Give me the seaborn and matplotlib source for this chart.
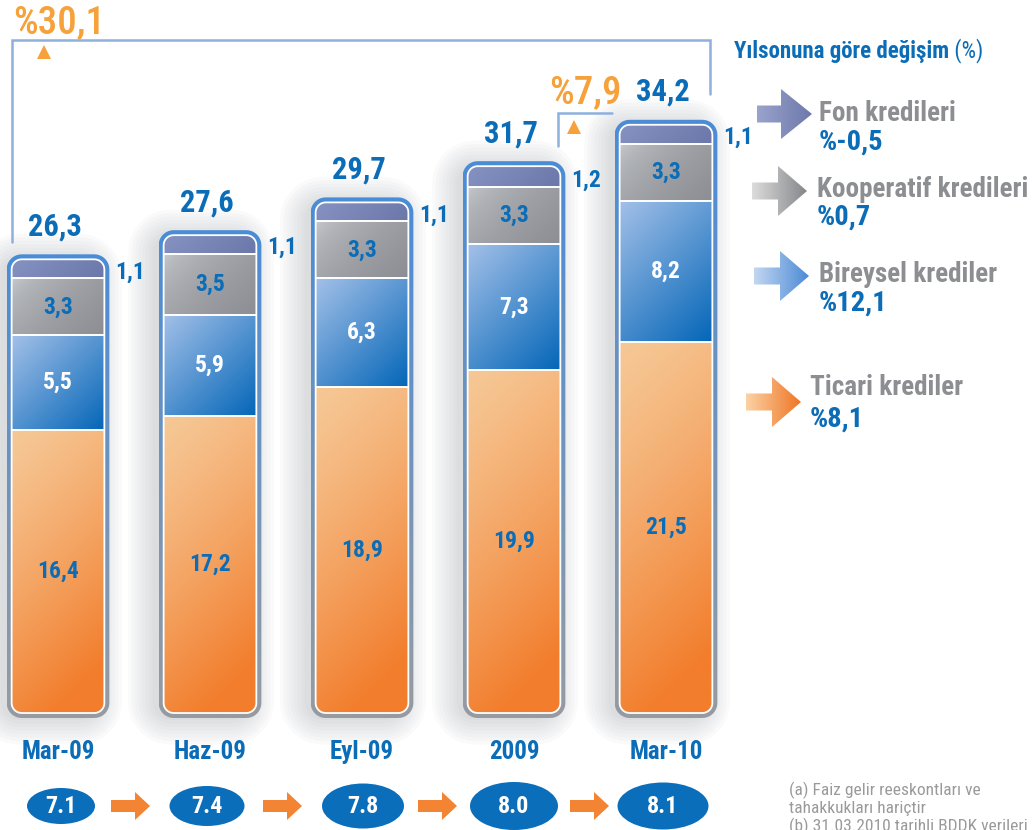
import numpy as np
import pandas as pd
import matplotlib
matplotlib.use('Agg')
import matplotlib.pyplot as plt
import seaborn as sns
from matplotlib import font_manager as fm
from matplotlib.path import Path
from matplotlib.patches import PathPatch, Ellipse, Polygon
from matplotlib.colors import to_rgb

# data
donem = ['Mar-09', 'Haz-09', 'Eyl-09', '2009', 'Mar-10']
ticari = [16.4, 17.2, 18.9, 19.9, 21.5]
bireysel = [5.5, 5.9, 6.3, 7.3, 8.2]
kooperatif = [3.3, 3.5, 3.3, 3.3, 3.3]
fon = [1.1, 1.1, 1.1, 1.2, 1.1]
toplam = [26.3, 27.6, 29.7, 31.7, 34.2]
oran = [7.1, 7.4, 7.8, 8.0, 8.1]
leg_names = ['Fon kredileri', 'Kooperatif kredileri', 'Bireysel krediler', 'Ticari krediler']
leg_change = ['%-0,5', '%0,7', '%12,1', '%8,1']
change_all = '%30,1'
change_ytd = '%7,9'
title_txt = 'Yılsonuna göre değişim'
notes = ['(a) Faiz gelir reeskontları ve', 'tahakkukları hariçtir', '(b) 31.03.2010 tarihli BDDK verileri']

df = pd.DataFrame({'donem': donem, 'ticari': ticari, 'bireysel': bireysel,
                   'kooperatif': kooperatif, 'fon': fon})

sns.set_style('white')

# pick the narrowest family that is installed
avail = {f.name: f for f in fm.fontManager.ttflist}
cond = [f.name for f in fm.fontManager.ttflist
        if 'narrow' in f.name.lower() or 'condensed' in f.name.lower()]
FONT = None
for c in ['Liberation Sans Narrow', 'Roboto Condensed', 'DejaVu Sans Condensed'] + cond:
    if c in avail:
        FONT = c
        break
if FONT is None:
    FONT = 'Roboto' if 'Roboto' in avail else 'Liberation Sans'
SC = 1.0 if ('Narrow' in FONT or 'Condensed' in FONT) else 0.86
plt.rcParams['font.family'] = [FONT, 'DejaVu Sans']

BLUE = '#0b6db7'
ORANGE = '#f6a13a'
GRAY = '#8d8e92'
BRACKET = '#8db0dd'

# pixel <-> data helpers (axes fills the whole figure)
PX, PY = 152.0, 17.25
X0PX, Y0PX = 58.0, 713.0
def fx(px): return (px - X0PX) / PX
def fy(py): return (Y0PX - py) / PY

def fmt(v):
    return f'{v:.1f}'.replace('.', ',')

def rrect(x0, y0, x1, y1, r, n=10):
    rx, ry = r / PX, r / PY
    pts = []
    for cx, cy, a0, a1 in [(x1 - rx, y0 + ry, -90, 0), (x1 - rx, y1 - ry, 0, 90),
                           (x0 + rx, y1 - ry, 90, 180), (x0 + rx, y0 + ry, 180, 270)]:
        a = np.radians(np.linspace(a0, a1, n))
        pts += list(zip(cx + rx * np.cos(a), cy + ry * np.sin(a)))
    return np.array(pts)

def closed(pts):
    v = np.vstack([pts, pts[:1]])
    c = [Path.MOVETO] + [Path.LINETO] * (len(pts) - 1) + [Path.CLOSEPOLY]
    return v, c

def diag_grad(c0, c1, w, h, gamma=1.0, stretch=1.0, n=80):
    c0, c1 = np.array(to_rgb(c0)), np.array(to_rgb(c1))
    xs = np.linspace(0, 1, n)[None, :]
    ys = np.linspace(0, 1, n)[:, None]
    t = np.clip((xs * w + ys * h) / (w + h) * stretch, 0, 1) ** gamma
    return c0 + (c1 - c0) * t[..., None]

def hgrad(c0, c1, n=60, vertical=False):
    c0, c1 = np.array(to_rgb(c0)), np.array(to_rgb(c1))
    t = np.linspace(0, 1, n)
    g = c0 + (c1 - c0) * t[:, None]
    return g[:, None, :] if vertical else g[None, :, :]

fig = plt.figure(figsize=(10.36, 8.3), dpi=100)
ax = fig.add_axes([0, 0, 1, 1])

layers = [('ticari', '#f6c896', '#f27d2c', 1.2, 1.15),
          ('bireysel', '#a3c0e8', '#0466b8', 1.0, 1.0),
          ('kooperatif', '#d0d3d6', '#8c8e93', 0.45, 1.0),
          ('fon', '#8592c2', '#6a77a8', 1.0, 1.0)]
BW = 0.61
bottom = np.zeros(len(donem))
seg = {}
for name, c0, c1, gm, st in layers:
    n0 = len(ax.patches)
    sns.barplot(data=df, x='donem', y=name, bottom=bottom, color=c1, width=BW,
                saturation=1, errorbar=None, ax=ax, zorder=3, linewidth=0)
    bars = ax.patches[n0:]
    for p in bars:
        x, y, w, h = p.get_x(), p.get_y(), p.get_width(), p.get_height()
        im = ax.imshow(diag_grad(c0, c1, w * PX, h * PY, gm, st), extent=(x, x + w, y, y + h),
                       aspect='auto', interpolation='bilinear', zorder=3.5)
        im.set_clip_path(p)
    seg[name] = (bottom.copy(), bottom + df[name].values)
    bottom = bottom + df[name].values

# frames, glow, separators
for i in range(len(donem)):
    xl, xr = i - BW / 2, i + BW / 2
    top = bottom[i]
    # soft shadow, mostly to the left
    for k in range(8):
        g = 3 + 3.5 * k
        pts = rrect(xl - (g + 8) / PX, -(g + 4) / PY, xr + (g - 10) / PX, top + (g - 2) / PY, 15 + g)
        ax.add_patch(Polygon(pts, closed=True, facecolor='#8a9096', edgecolor='none',
                             alpha=0.04, zorder=1))
    for name in ['ticari', 'bireysel', 'kooperatif']:
        ax.hlines(seg[name][1][i], xl, xr, color='white', lw=1.4, zorder=4)
    outer = rrect(xl - 5 / PX, -5 / PY, xr + 5 / PX, top + 5 / PY, 15)
    inner = rrect(xl, 0, xr, top, 10)[::-1]
    v1, c1_ = closed(outer)
    v2, c2_ = closed(inner)
    ring = PathPatch(Path(np.vstack([v1, v2]), c1_ + c2_), facecolor='none',
                     edgecolor='none', transform=ax.transData, zorder=5)
    ax.add_patch(ring)
    im = ax.imshow(hgrad('#4a8cd6', '#969ba2', vertical=True),
                   extent=(xl - 5 / PX, xr + 5 / PX, -5 / PY, top + 5 / PY),
                   aspect='auto', interpolation='bilinear', zorder=5)
    im.set_clip_path(ring)
    ax.add_patch(Polygon(rrect(xl, 0, xr, top, 10), closed=True, facecolor='none',
                         edgecolor='white', lw=1.3, zorder=5.2))

    # labels
    ax.text(i - 3 / PX, top + 24 / PY, fmt(toplam[i]), ha='center', va='baseline', color=BLUE,
            fontsize=22 * SC, fontweight='bold', zorder=6)
    ax.text(xr + 11 / PX, seg['kooperatif'][1][i], fmt(fon[i]), ha='left', va='baseline',
            color=BLUE, fontsize=17 * SC, fontweight='bold', zorder=6)
    for name, col in [('ticari', BLUE), ('bireysel', 'white'), ('kooperatif', BLUE)]:
        b0, b1 = seg[name][0][i], seg[name][1][i]
        ax.text(i, (b0 + b1) / 2, fmt(df[name][i]), ha='center', va='center', color=col,
                fontsize=17 * SC, fontweight='bold', zorder=6)
    ax.text(i, fy(759), donem[i], ha='center', va='baseline', color=BLUE,
            fontsize=18 * SC, fontweight='bold')

# ovals with arrows
oval_w = [68, 75, 82, 88, 91]
oval_h = [36, 40, 45, 48, 47]
oval_x = [61, 207, 363, 514, 663]
for i, v in enumerate(oran):
    cx = fx(oval_x[i])
    ax.add_patch(Ellipse((cx, fy(806)), oval_w[i] / PX, oval_h[i] / PY, facecolor='#0a6ebb',
                         edgecolor='none', zorder=3))
    ax.text(cx, fy(806), f'{v:.1f}', ha='center', va='center', color='white',
            fontsize=17.5 * SC, fontweight='bold', zorder=4)
for ax0 in [111, 263, 418, 570]:
    cy = 806
    pts = [(ax0, cy - 6), (ax0 + 24, cy - 6), (ax0 + 24, cy - 14), (ax0 + 39, cy),
           (ax0 + 24, cy + 14), (ax0 + 24, cy + 6), (ax0, cy + 6)]
    ax.add_patch(Polygon([(fx(a), fy(b)) for a, b in pts], closed=True,
                         facecolor='#f28434', edgecolor='none', zorder=3))

# brackets
ax.plot([fx(12), fx(12), fx(710), fx(710)], [fy(242), fy(40.5), fy(40.5), fy(94)],
        color=BRACKET, lw=1.8, solid_joinstyle='miter', zorder=2)
ax.plot([fx(558), fx(558), fx(612)], [fy(146), fy(113), fy(113)],
        color=BRACKET, lw=1.8, solid_joinstyle='miter', zorder=2)
ax.plot([fx(43.5)], [fy(52)], marker='^', color=ORANGE, ms=10, mew=0, zorder=3)
ax.plot([fx(574.5)], [fy(127)], marker='^', color=ORANGE, ms=10, mew=0, zorder=3)
ax.text(fx(13), fy(33), change_all, ha='left', va='baseline', color=ORANGE,
        fontsize=28 * SC, fontweight='medium')
ax.text(fx(549), fy(103), change_ytd, ha='left', va='baseline', color=ORANGE,
        fontsize=28 * SC, fontweight='medium')

# title
t1 = ax.text(fx(734), fy(58), title_txt, ha='left', va='baseline', color=BLUE,
             fontsize=16.5 * SC, fontweight='bold')
ax.annotate(' (%)', xy=(1, 0), xycoords=t1, ha='left', va='bottom', color=BLUE,
            fontsize=16.5 * SC)

# legend arrows
arrows = [(757, 781, 812, 114, '#9aa3cc', '#6d79ab'),
          (752, 778, 807, 191, '#dcdcdc', '#85878b'),
          (754, 780, 809, 276, '#c2d6f2', '#4a8ad6'),
          (746, 772, 801, 402, '#fbd2a4', '#ef7626')]
text_x = [819, 817, 819, 810]
name_base = [121, 197, 282, 395]
val_base = [150, 225, 311, 427]
for k, (a0, ab, aa, cy, c0, c1) in enumerate(arrows):
    pts = [(a0, cy - 8.5), (ab, cy - 8.5), (ab, cy - 25), (aa, cy), (ab, cy + 25),
           (ab, cy + 8.5), (a0, cy + 8.5)]
    poly = Polygon([(fx(a), fy(b)) for a, b in pts], closed=True, facecolor='none',
                   edgecolor='none', zorder=3)
    ax.add_patch(poly)
    im = ax.imshow(hgrad(c0, c1), extent=(fx(a0), fx(aa), fy(cy + 25), fy(cy - 25)),
                   aspect='auto', interpolation='bilinear', zorder=3)
    im.set_clip_path(poly)
    ax.text(fx(text_x[k]), fy(name_base[k]), leg_names[k], ha='left', va='baseline',
            color=GRAY, fontsize=19.5 * SC, fontweight='bold')
    ax.text(fx(text_x[k]), fy(val_base[k]), leg_change[k], ha='left', va='baseline',
            color=BLUE, fontsize=20.5 * SC, fontweight='bold')

# footnotes
for k, line in enumerate(notes):
    ax.text(fx(789), fy(795 + 18 * k), line, ha='left', va='baseline', color='#9a9a9a',
            fontsize=12.5 * SC)

ax.set_xlim(fx(0), fx(1036))
ax.set_ylim(fy(830), fy(0))
ax.axis('off')
fig.savefig('out.png', dpi=100)
